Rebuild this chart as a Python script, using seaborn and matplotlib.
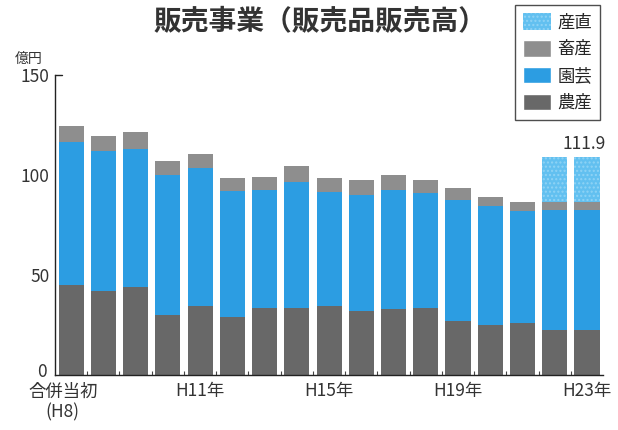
import numpy as np
import matplotlib
matplotlib.use('Agg')
import matplotlib.pyplot as plt
import matplotlib.transforms as mtrans
import seaborn as sns
from matplotlib.patches import Patch

# data (億円)
years = ['H8', 'H9', 'H10', 'H11', 'H12', 'H13', 'H14', 'H15', 'H16',
         'H17', 'H18', 'H19', 'H20', 'H21', 'H22', 'H23a', 'H23']
nousan = [45.2, 41.9, 43.9, 29.9, 34.4, 29.1, 33.6, 33.6, 34.4,
          32.2, 33.1, 33.6, 27.2, 25.2, 26.1, 22.7, 22.7]
engei = [71.5, 70.0, 69.2, 70.3, 69.0, 62.8, 58.8, 63.1, 57.0,
         58.0, 59.6, 57.5, 60.5, 59.2, 55.8, 59.7, 59.7]
chikusan = [7.7, 7.5, 8.6, 6.7, 7.3, 6.7, 6.7, 8.0, 7.2,
            7.5, 7.2, 6.3, 5.9, 4.7, 4.5, 4.0, 4.0]
sanchoku = [0, 0, 0, 0, 0, 0, 0, 0, 0, 0, 0, 0, 0, 0, 0, 22.8, 22.8]
tick_pos = [0, 4, 8, 12, 16]
tick_labels = ['合併当初\n(H8)', 'H11年', 'H15年', 'H19年', 'H23年']
last_label = '111.9'

sns.set_style('white')
plt.rcParams['font.family'] = ['Noto Sans CJK JP', 'DejaVu Sans']

c_nou = '#686868'
c_eng = '#2c9de2'
c_chi = '#8e8e8e'
c_san = '#62c0f0'

fig = plt.figure(figsize=(6.18, 4.30), dpi=100)
ax = fig.add_axes([0.089, 0.127, 0.887, 0.699])

n = np.array(nousan)
e = np.array(engei)
c = np.array(chikusan)
s = np.array(sanchoku)

kw = dict(width=0.78, saturation=1, linewidth=0, ax=ax)
sns.barplot(x=years, y=n, color=c_nou, **kw)
sns.barplot(x=years, y=e, bottom=n, color=c_eng, **kw)
sns.barplot(x=years, y=c, bottom=n + e, color=c_chi, **kw)
sns.barplot(x=years, y=s, bottom=n + e + c, color=c_san, hatch='....',
            edgecolor='#8fd3f5', **kw)

ax.set_xlim(-0.5, len(years) - 0.5)
ax.set_ylim(0, 150)
ax.set_yticks([0, 50, 100, 150])
ax.set_xticks(tick_pos)
ax.set_xticklabels(tick_labels)
ax.set_xticks(np.arange(0.5, len(years) - 0.5, 1), minor=True)
ax.tick_params(axis='x', which='major', length=0, labelsize=12.5, pad=5,
               labelcolor='#333333')
ax.tick_params(axis='x', which='minor', direction='in', length=3, width=0.8,
               bottom=True, color='#444444')
ax.tick_params(axis='y', direction='in', length=0, labelsize=12.5, pad=4,
               left=True, labelcolor='#333333')
ax.set_xlabel('')
ax.set_ylabel('')
for sp in ['top', 'right']:
    ax.spines[sp].set_visible(False)
for sp in ['left', 'bottom']:
    ax.spines[sp].set_color('#222222')
    ax.spines[sp].set_linewidth(1.0)
ax.plot([0, 0.012], [150, 150], transform=ax.get_yaxis_transform(), color='#222222',
        lw=1.0, clip_on=False)

# nudge the first x label left and the "0" label up, as in the original
first = ax.get_xticklabels()[0]
first.set_transform(first.get_transform() + mtrans.ScaledTranslation(-6 / 72, 0, fig.dpi_scale_trans))
zero = ax.get_yticklabels()[0]
zero.set_transform(zero.get_transform() + mtrans.ScaledTranslation(-2 / 72, 4 / 72, fig.dpi_scale_trans))

tops = n + e + c + s
ax.text(len(years) - 1.1, tops[-1] + 2, last_label, ha='center', va='bottom',
        fontsize=12.5, color='#333333')

fig.text(0.024, 0.862, '億円', fontsize=10, ha='left', va='center', color='#333333')
fig.text(0.518, 0.951, '販売事業（販売品販売高）', fontsize=20, fontweight='bold',
         ha='center', va='center', color='#333333')

handles = [Patch(facecolor=c_san, hatch='....', edgecolor='#8fd3f5', linewidth=0, label='産直'),
           Patch(facecolor=c_chi, label='畜産'),
           Patch(facecolor=c_eng, label='園芸'),
           Patch(facecolor=c_nou, label='農産')]
leg = fig.legend(handles=handles, loc='upper right', bbox_to_anchor=(0.971, 0.988),
                 fontsize=12.5, frameon=True, fancybox=False, handlelength=1.6,
                 handleheight=1.1, labelspacing=0.5, borderpad=0.45, handletextpad=0.4,
                 borderaxespad=0)
leg.get_frame().set_edgecolor('#222222')
leg.get_frame().set_linewidth(1.0)

fig.savefig('out.png', dpi=100)
